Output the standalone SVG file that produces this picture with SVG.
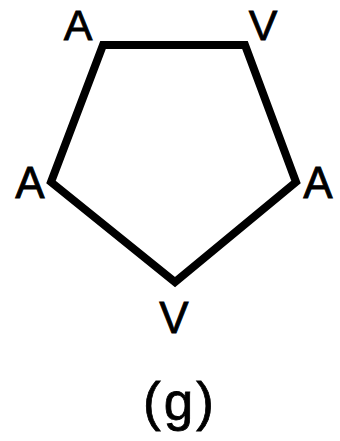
<svg xmlns="http://www.w3.org/2000/svg" width="340" height="441" viewBox="0 0 340 441">
<style>
.lbl{font-family:"Liberation Sans",Arial,sans-serif;font-size:44px;fill:#000;stroke:#000;stroke-width:0.8;text-anchor:middle}
.top{font-size:43px}
.cap{font-size:53px;letter-spacing:3px}
.edge{fill:none;stroke:#000;stroke-width:8;stroke-linejoin:miter}
</style>
<rect width="340" height="441" fill="#fff"/>
<g id="connectors">
<polygon class="edge" points="103,45 245,45 296,182 175,282 51,182"/>
</g>
<g id="n1"><text class="lbl top" x="78" y="40">A</text></g>
<g id="n2"><text class="lbl top" x="263" y="40">V</text></g>
<g id="n3"><text class="lbl" x="30" y="198">A</text></g>
<g id="n4"><text class="lbl" x="318" y="198">A</text></g>
<g id="n5"><text class="lbl" x="174" y="333">V</text></g>
<g id="caption"><text class="lbl cap" x="180" y="420">(g)</text></g>
</svg>
